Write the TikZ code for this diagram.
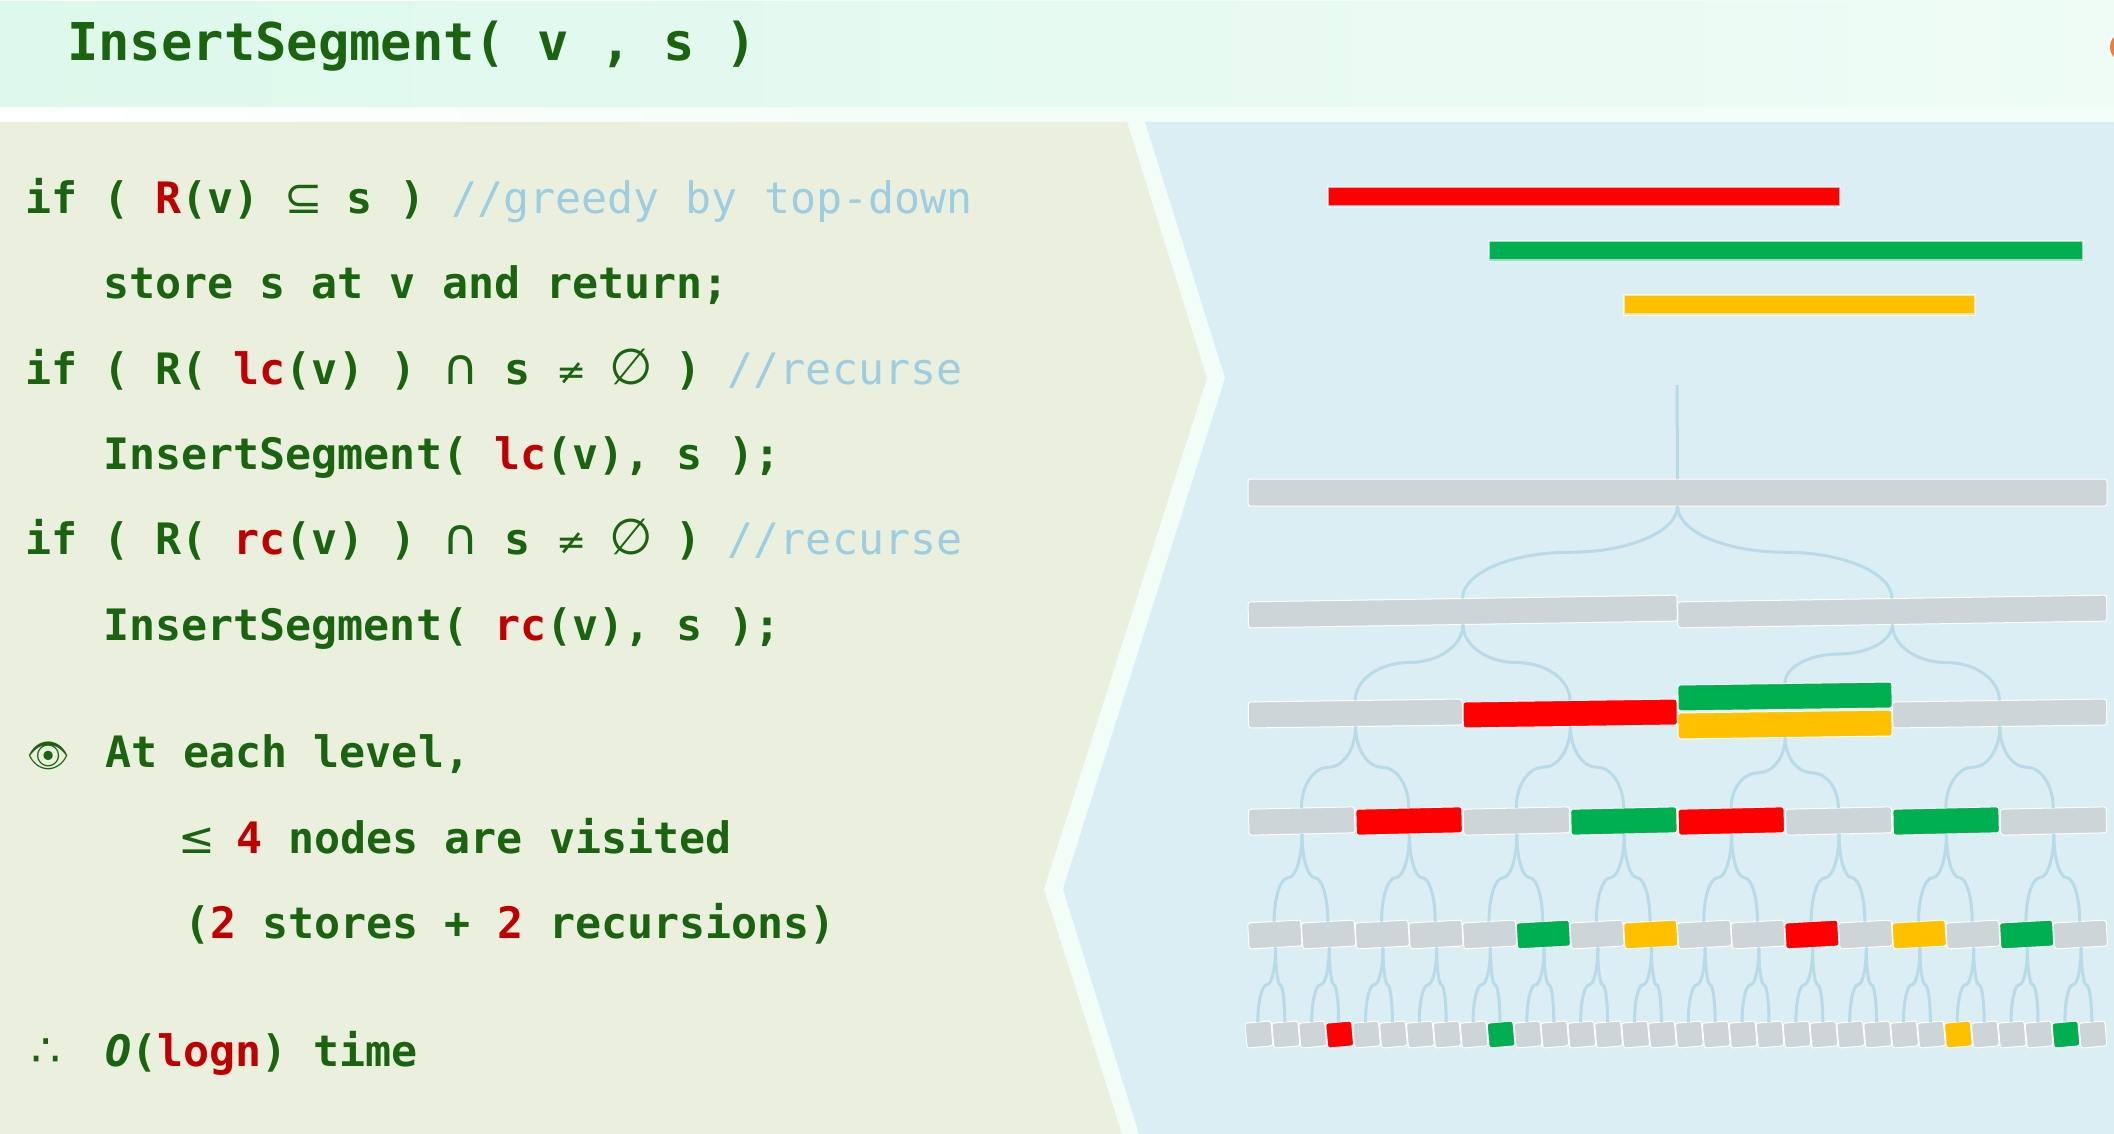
\documentclass[tikz,border=0pt]{standalone}
\usepackage{fontspec}
\setmonofont{DejaVu Sans Mono}
\newfontfamily\eyefont{Noto Emoji}
\newfontfamily\symfont{DejaVu Sans}
\usetikzlibrary{positioning, calc}
\definecolor{codegreen}{HTML}{1A6410}
\definecolor{codered}{HTML}{C00000}
\definecolor{codenote}{HTML}{9CCDE0}
\definecolor{olivepanel}{HTML}{EBF0DE}
\definecolor{bluepanel}{HTML}{DBEEF4}
\definecolor{palestrip}{HTML}{F3FDF8}
\definecolor{titleleft}{HTML}{DDF8EC}
\definecolor{titleright}{HTML}{EFFCF6}
\definecolor{linkblue}{HTML}{B7DBE7}
\definecolor{bargray}{HTML}{CDD5D8}
\definecolor{barred}{HTML}{FF0000}
\definecolor{bargreen}{HTML}{00B050}
\definecolor{baryellow}{HTML}{FFC000}
\definecolor{dotorange}{HTML}{ED7D41}
\tikzset{codeline/.style={inner sep=0pt, text height=36pt, text depth=10pt, text=codegreen, font=\fontsize{43.3}{50}\ttfamily\bfseries},
         segbar/.style={fill=#1, draw=white, line width=1pt, rounded corners=2.5pt, inner sep=0pt, outer sep=0pt},
         segment/.style={rectangle, fill=#1, draw=white, draw opacity=0.6, line width=2.5pt, inner sep=0pt, outer sep=0pt, minimum height=19.5pt},
         treelink/.style={draw=linkblue, line width=3pt}}
\newcommand{\hot}[1]{\textcolor{codered}{#1}}
\newcommand{\note}[1]{\textcolor{codenote}{\mdseries #1}}
\newcommand{\sym}[3]{\makebox[#1pt]{\fontsize{#2}{50}\symfont\mdseries #3}}
\newcommand{\seglink}[2]{
    \coordinate (m) at ($(#1.south)!.5!(#2.north)$);
    \draw [treelink] (#1.south) .. controls ($(#1.south)!.55!(#1.south |- m)$) and ($(m)!.55!(#1.south |- m)$) .. (m)
        .. controls ($(m)!.55!(#2.north |- m)$) and ($(#2.north)!.55!(#2.north |- m)$) .. (#2.north);
}
\begin{document}
\begin{tikzpicture}[x=1pt, y=-1pt]
        \useasboundingbox (0,0) rectangle (2114,1134);
        % panels
        \fill [left color=white, right color=palestrip] (0,0) rectangle (1000,1134);
        \fill [palestrip] (1000,0) rectangle (2114,1134);
        \fill [left color=titleleft, right color=titleright] (0,2) rectangle (2114,107);
        \fill [olivepanel] (0,122) -- (1127,122) -- (1207,378) -- (1044,889) -- (1122,1134) -- (0,1134) -- cycle;
        \fill [bluepanel] (1145,122) -- (2114,122) -- (2114,1134) -- (1139,1134) -- (1063,889) -- (1225,378) -- cycle;
        \fill [white] (2125,47) circle (17);
        \fill [dotorange] (2125,47) circle (15);

        % code
        \node (title)[codeline, font=\fontsize{52.1}{60}\ttfamily\bfseries, anchor=base west] at (67,61) {InsertSegment( v , s )};
        \node (ifself)[codeline, anchor=north west] at (25,177) {if ( \hot{R}(v) \sym{35}{46}{⊆} s ) \note{//greedy by top-down}};
        \node (storeline)[codeline, below=39pt of ifself.south west, anchor=north west, xshift=78pt] {store s at v and return;};
        \node (ifleft)[codeline, below=39pt of storeline.south west, anchor=north west, xshift=-78pt] {if ( R( \hot{lc}(v) ) \sym{36}{50}{∩} s \sym{30}{36}{≠} \sym{37}{50}{∅} ) \note{//recurse}};
        \node (recleft)[codeline, below=39pt of ifleft.south west, anchor=north west, xshift=78pt] {InsertSegment( \hot{lc}(v), s );};
        \node (ifright)[codeline, below=39pt of recleft.south west, anchor=north west, xshift=-78pt] {if ( R( \hot{rc}(v) ) \sym{36}{50}{∩} s \sym{30}{36}{≠} \sym{37}{50}{∅} ) \note{//recurse}};
        \node (recright)[codeline, below=39pt of ifright.south west, anchor=north west, xshift=78pt] {InsertSegment( \hot{rc}(v), s );};
        \node (atlevel)[codeline, below=81pt of recright.south west, anchor=north west, xshift=2pt] {At each level,};
        \node (visited)[codeline, below=39pt of atlevel.south west, anchor=north west, xshift=79pt] {\sym{26}{44}{≤} \hot{4} nodes are visited};
        \node (stores)[codeline, below=39pt of visited.south west, anchor=north west] {(\hot{2} stores + \hot{2} recursions)};
        \node (logtime)[codeline, below=82pt of stores.south west, anchor=north west, xshift=-79pt] {{\itshape O}(\hot{logn}) time};
        \node (eye)[codeline, left=35pt of atlevel.west, font=\fontsize{34}{44}\eyefont] {\char"1F441};
        \node (therefore)[codeline, left=44pt of logtime.west, font=\fontsize{46}{50}\symfont] {∴};

        % segments
        \node (red)[segment=barred, minimum width=512pt, anchor=north west] at (1328,187) {};
        \node (green)[segment=bargreen, minimum width=594pt, anchor=north west] at (1489,241) {};
        \node (yellow)[segment=baryellow, minimum width=351pt, anchor=north west] at (1624,295) {};

        % tree
        \coordinate (entry) at (1677,385);
        \node (a)[segbar=bargray, minimum width=859pt, minimum height=27pt] at (1677.5,492.5) {};
        \draw [treelink] (entry) -- (a.north);
        \foreach \i in {0,1}
            \node (b\i)[segbar=bargray, minimum width=429pt, minimum height=26pt, rotate=0.9] at ({1248+(\i+.5)*429.5},611.5) {};
        \foreach \i/\col in {0/bargray, 1/barred, 3/bargray}
            \node (c\i)[segbar=\col, minimum width=214pt, minimum height=26pt, rotate=0.8] at ({1248+(\i+.5)*214.75},713.5) {};
        \node (ctop)[segbar=bargreen, minimum width=214pt, minimum height=26pt, rotate=0.8] at (1785,696.5) {};
        \node (c2)[segbar=baryellow, minimum width=214pt, minimum height=26pt, rotate=0.8] at (1785,724.5) {};
        \foreach \i/\col in {0/bargray, 1/barred, 2/bargray, 3/bargreen, 4/barred, 5/bargray, 6/bargreen, 7/bargray}
            \node (d\i)[segbar=\col, minimum width=106pt, minimum height=26pt, rotate=1.3] at ({1248+(\i+.5)*107.4},821) {};
        \foreach \i/\col in {0/bargray, 1/bargray, 2/bargray, 3/bargray, 4/bargray, 5/bargreen, 6/bargray, 7/baryellow, 8/bargray, 9/bargray, 10/barred, 11/bargray, 12/baryellow, 13/bargray, 14/bargreen, 15/bargray}
            \node (e\i)[segbar=\col, minimum width=53pt, minimum height=26pt, rotate=3.2] at ({1248+(\i+.5)*53.7},934.5) {};
        \foreach \i in {0,...,31}{
            \def\col{bargray}
            \ifnum\i=3 \def\col{barred}\fi
            \ifnum\i=9 \def\col{bargreen}\fi
            \ifnum\i=26 \def\col{baryellow}\fi
            \ifnum\i=30 \def\col{bargreen}\fi
            \node (f\i)[segbar=\col, minimum width=26pt, minimum height=25pt, rotate=5] at ({1245.5+(\i+.5)*26.9},1034.5) {};
        }

        % links
        \seglink{a}{b0}
        \seglink{a}{b1}
        \seglink{b0}{c0}
        \seglink{b0}{c1}
        \seglink{b1}{ctop}
        \seglink{b1}{c3}
        \foreach \i in {0,...,3}{
            \pgfmathtruncatemacro\j{2*\i}
            \pgfmathtruncatemacro\k{2*\i+1}
            \seglink{c\i}{d\j}
            \seglink{c\i}{d\k}
        }
        \foreach \i in {0,...,7}{
            \pgfmathtruncatemacro\j{2*\i}
            \pgfmathtruncatemacro\k{2*\i+1}
            \seglink{d\i}{e\j}
            \seglink{d\i}{e\k}
        }
        \foreach \i in {0,...,15}{
            \pgfmathtruncatemacro\j{2*\i}
            \pgfmathtruncatemacro\k{2*\i+1}
            \seglink{e\i}{f\j}
            \seglink{e\i}{f\k}
        }
\end{tikzpicture}
\end{document}
